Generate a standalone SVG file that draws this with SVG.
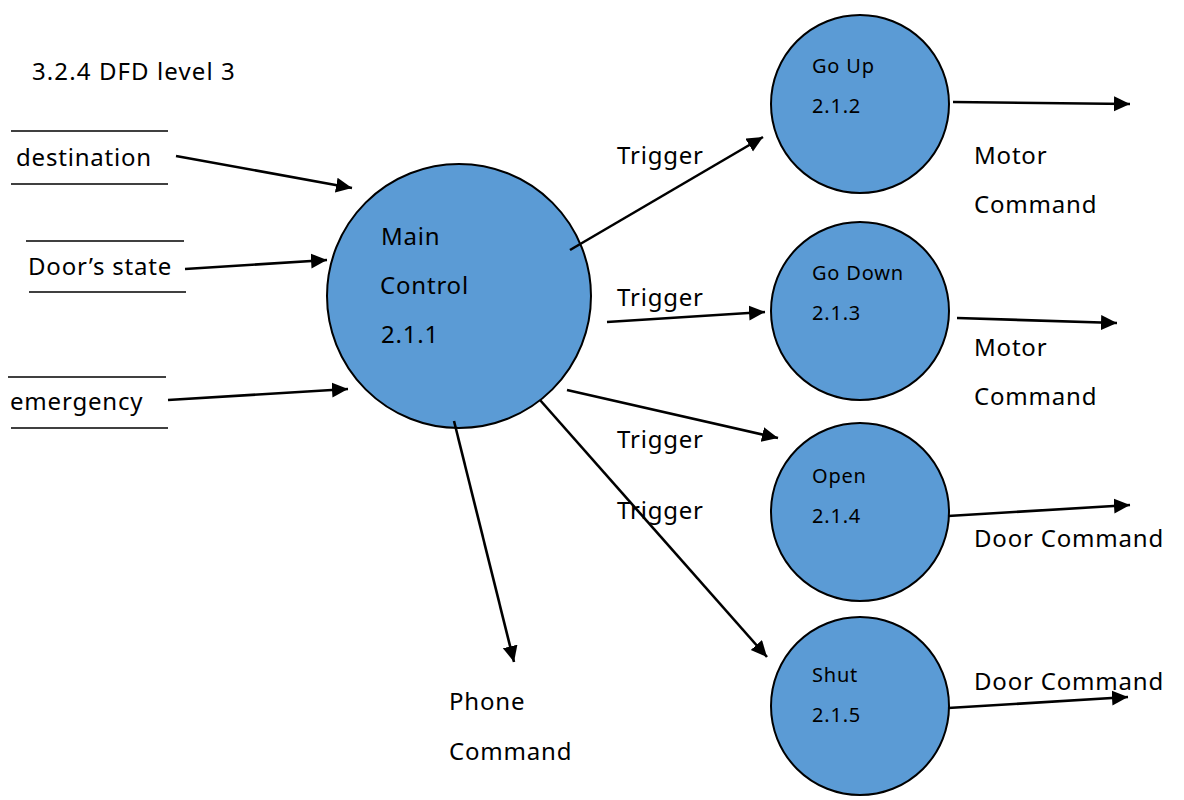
<svg xmlns="http://www.w3.org/2000/svg" width="1184" height="800" viewBox="0 0 1184 800">
  <style>
    text { font-family: "Noto Sans", "Open Sans", "Noto Sans CJK KR", sans-serif; fill: #000; letter-spacing: 0.8px; }
    .lbl { font-size: 24px; }
    .title { font-size: 24px; letter-spacing: 1.1px; }
    .sm { font-size: 20px; }
    .proc { fill: #5B9BD5; stroke: #000; stroke-width: 2; }
    .store { stroke: #000; stroke-width: 1.6; }
    .flow { stroke: #000; stroke-width: 2.6; fill: none; marker-end: url(#arrow); }
  </style>
  <defs>
    <marker id="arrow" markerUnits="userSpaceOnUse" markerWidth="18" markerHeight="16" refX="16" refY="7.5" orient="auto">
      <path d="M0,0 L16,7.5 L0,15 Z" fill="#000"/>
    </marker>
  </defs>
  <rect width="1184" height="800" fill="#fff"/>

  <text class="title" x="32" y="80">3.2.4 DFD level 3</text>

  <!-- data stores -->
  <g id="store-destination">
    <line class="store" x1="11" y1="131" x2="168" y2="131"/>
    <line class="store" x1="11" y1="184" x2="168" y2="184"/>
    <text class="lbl" x="16" y="166">destination</text>
  </g>
  <g id="store-door-state">
    <line class="store" x1="26" y1="241" x2="184" y2="241"/>
    <line class="store" x1="29" y1="292" x2="186" y2="292"/>
    <text class="lbl" x="28" y="275">Door’s state</text>
  </g>
  <g id="store-emergency">
    <line class="store" x1="8" y1="377" x2="166" y2="377"/>
    <line class="store" x1="11" y1="428" x2="168" y2="428"/>
    <text class="lbl" x="10" y="410">emergency</text>
  </g>

  <!-- processes -->
  <g id="proc-main-control">
    <circle class="proc" cx="459" cy="296" r="132"/>
    <text class="lbl" x="381" y="245">Main</text>
    <text class="lbl" x="380" y="294">Control</text>
    <text class="lbl" x="381" y="343">2.1.1</text>
  </g>
  <g id="proc-go-up">
    <circle class="proc" cx="860" cy="104" r="89"/>
    <text class="sm" x="812" y="73">Go Up</text>
    <text class="sm" x="812" y="113">2.1.2</text>
  </g>
  <g id="proc-go-down">
    <circle class="proc" cx="860" cy="311" r="89"/>
    <text class="sm" x="812" y="280">Go Down</text>
    <text class="sm" x="812" y="320">2.1.3</text>
  </g>
  <g id="proc-open">
    <circle class="proc" cx="860" cy="512" r="89"/>
    <text class="sm" x="812" y="483">Open</text>
    <text class="sm" x="812" y="523">2.1.4</text>
  </g>
  <g id="proc-shut">
    <circle class="proc" cx="860" cy="706" r="89"/>
    <text class="sm" x="812" y="682">Shut</text>
    <text class="sm" x="812" y="722">2.1.5</text>
  </g>

  <!-- data flows -->
  <g id="flows">
    <line class="flow" x1="176" y1="156" x2="352" y2="188"/>
    <line class="flow" x1="185" y1="269" x2="327" y2="260"/>
    <line class="flow" x1="168" y1="400" x2="348" y2="389"/>
    <line class="flow" x1="570" y1="250" x2="763" y2="137"/>
    <line class="flow" x1="607" y1="322" x2="765" y2="312"/>
    <line class="flow" x1="567" y1="390" x2="778" y2="438"/>
    <line class="flow" x1="540" y1="400" x2="767" y2="657"/>
    <line class="flow" x1="454" y1="421" x2="514" y2="662"/>
    <line class="flow" x1="953" y1="102" x2="1130" y2="104"/>
    <line class="flow" x1="957" y1="318" x2="1117" y2="323"/>
    <line class="flow" x1="948" y1="516" x2="1130" y2="505"/>
    <line class="flow" x1="948" y1="708" x2="1128" y2="697"/>
  </g>

  <!-- flow labels -->
  <g id="flow-labels">
    <text class="lbl" x="617" y="164">Trigger</text>
    <text class="lbl" x="617" y="306">Trigger</text>
    <text class="lbl" x="617" y="448">Trigger</text>
    <text class="lbl" x="617" y="519">Trigger</text>
    <text class="lbl" x="974" y="164">Motor</text>
    <text class="lbl" x="974" y="213">Command</text>
    <text class="lbl" x="974" y="356">Motor</text>
    <text class="lbl" x="974" y="405">Command</text>
    <text class="lbl" x="974" y="547">Door Command</text>
    <text class="lbl" x="974" y="690">Door Command</text>
    <text class="lbl" x="449" y="710">Phone</text>
    <text class="lbl" x="449" y="760">Command</text>
  </g>
</svg>
